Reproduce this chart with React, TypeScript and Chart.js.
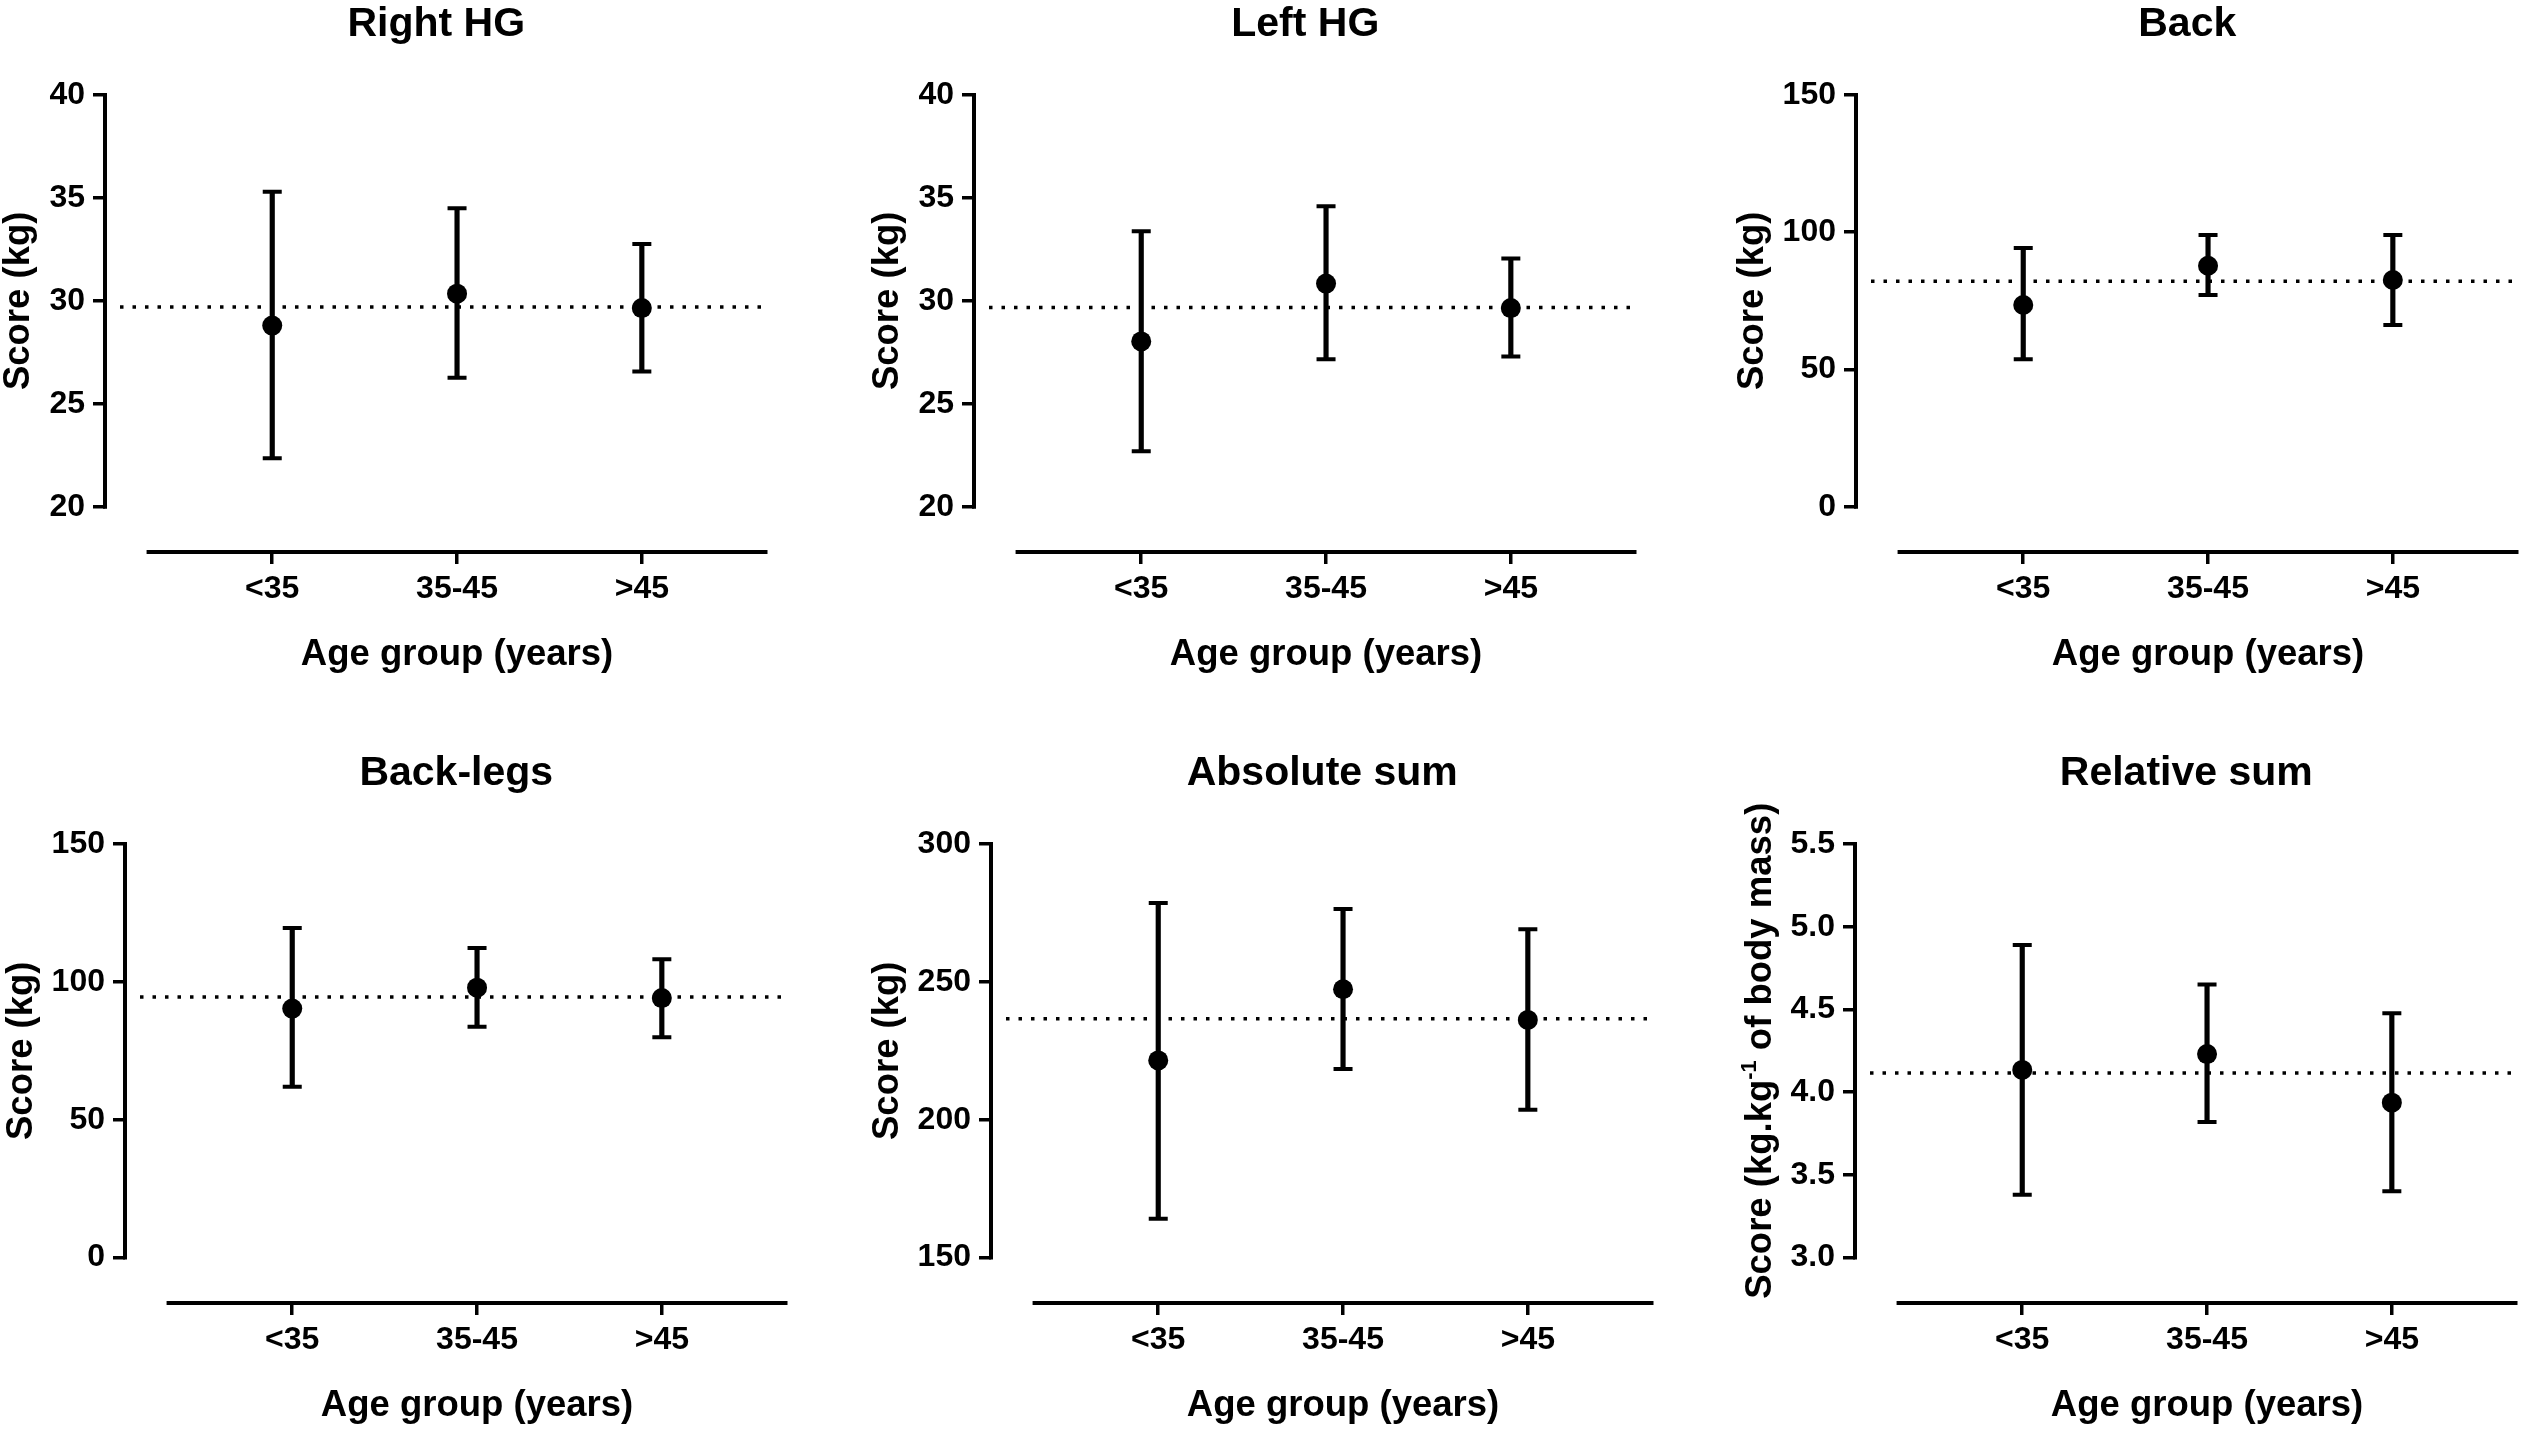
import React, { useEffect, useRef } from "react";
import { Chart, registerables } from "chart.js";

Chart.register(...registerables);

// ---------- data ----------
const ageGroups = ["<35", "35-45", ">45"];
const panelTitles = ["Right HG", "Left HG", "Back", "Back-legs", "Absolute sum", "Relative sum"];
const xAxisTitle = "Age group (years)";
const kgAxisTitle = [{ text: "Score (kg)", sup: false }];
const relativeAxisTitle = [
  { text: "Score (kg.kg", sup: false },
  { text: "-1", sup: true },
  { text: " of body mass)", sup: false },
];

const handgripTicks = [20, 25, 30, 35, 40];
const backTicks = [0, 50, 100, 150];
const absoluteSumTicks = [150, 200, 250, 300];
const relativeSumTicks = [3.0, 3.5, 4.0, 4.5, 5.0, 5.5];

const rightHGMean = [28.8, 30.35, 29.65];
const rightHGLower = [22.35, 26.26, 26.57];
const rightHGUpper = [35.3, 34.5, 32.76];
const rightHGOverall = 29.7;

const leftHGMean = [28.03, 30.84, 29.65];
const leftHGLower = [22.7, 27.16, 27.3];
const leftHGUpper = [33.38, 34.6, 32.06];
const leftHGOverall = 29.68;

const backMean = [73.5, 87.8, 82.6];
const backLower = [53.7, 77.1, 66.2];
const backUpper = [94.3, 99.0, 99.0];
const backOverall = 82.1;

const backLegsMean = [90.3, 97.9, 94.1];
const backLegsLower = [61.9, 83.7, 79.9];
const backLegsUpper = [119.5, 112.3, 108.2];
const backLegsOverall = 94.5;

const absoluteSumMean = [221.5, 247.3, 236.2];
const absoluteSumLower = [164.1, 218.4, 203.6];
const absoluteSumUpper = [278.6, 276.4, 269.1];
const absoluteSumOverall = 236.6;

const relativeSumMean = [4.134, 4.23, 3.936];
const relativeSumLower = [3.38, 3.82, 3.4];
const relativeSumUpper = [4.89, 4.65, 4.477];
const relativeSumOverall = 4.115;

// ---------- layout / style ----------
const FAMILY = "'Liberation Sans', Arial, Helvetica, sans-serif";
const Y_SCALE_W = 130;
const X_SCALE_H = 130;
const TITLE_BOX = 95;
const PLOT_W = 674;
const RIGHT_PAD = 2;
const ROW_TOP = [95, 844];
const ROW_BOTTOM = [552, 1303];
const PANEL_AXIS_X = [105, 974, 1856, 125, 991, 1855];
const X_MIN = -0.905;
const X_MAX = 2.68;
const X_AXIS_START = -0.68;
const Y_GAP = 0.11;
const TICK_FONT = 32;
const AXIS_TITLE_FONT = 36.5;
const TITLE_FONT = 41;

type Seg = { text: string; sup: boolean };
type PanelSpec = {
  title: string;
  yTitle: Seg[];
  mean: number[];
  lower: number[];
  upper: number[];
  overall: number;
  yTicks: number[];
  decimals: number;
};

const panels: PanelSpec[] = [
  { title: panelTitles[0], yTitle: kgAxisTitle, mean: rightHGMean, lower: rightHGLower, upper: rightHGUpper, overall: rightHGOverall, yTicks: handgripTicks, decimals: 0 },
  { title: panelTitles[1], yTitle: kgAxisTitle, mean: leftHGMean, lower: leftHGLower, upper: leftHGUpper, overall: leftHGOverall, yTicks: handgripTicks, decimals: 0 },
  { title: panelTitles[2], yTitle: kgAxisTitle, mean: backMean, lower: backLower, upper: backUpper, overall: backOverall, yTicks: backTicks, decimals: 0 },
  { title: panelTitles[3], yTitle: kgAxisTitle, mean: backLegsMean, lower: backLegsLower, upper: backLegsUpper, overall: backLegsOverall, yTicks: backTicks, decimals: 0 },
  { title: panelTitles[4], yTitle: kgAxisTitle, mean: absoluteSumMean, lower: absoluteSumLower, upper: absoluteSumUpper, overall: absoluteSumOverall, yTicks: absoluteSumTicks, decimals: 0 },
  { title: panelTitles[5], yTitle: relativeAxisTitle, mean: relativeSumMean, lower: relativeSumLower, upper: relativeSumUpper, overall: relativeSumOverall, yTicks: relativeSumTicks, decimals: 1 },
];

function drawRich(ctx: CanvasRenderingContext2D, segs: Seg[], size: number) {
  const parts = segs.map((s) => {
    const fs = s.sup ? size * 0.6 : size;
    ctx.font = `bold ${fs}px ${FAMILY}`;
    return { ...s, fs, w: ctx.measureText(s.text).width };
  });
  const total = parts.reduce((a, p) => a + p.w, 0);
  let x = -total / 2;
  ctx.textAlign = "left";
  ctx.textBaseline = "middle";
  for (const p of parts) {
    ctx.font = `bold ${p.fs}px ${FAMILY}`;
    ctx.fillText(p.text, x, p.sup ? -size * 0.3 : 0);
    x += p.w;
  }
}

function Panel({ spec, index }: { spec: PanelSpec; index: number }) {
  const ref = useRef<HTMLCanvasElement | null>(null);
  const row = Math.floor(index / 3);
  const axisX = PANEL_AXIS_X[index];
  const left = axisX - Y_SCALE_W;
  const top = ROW_TOP[row] - TITLE_BOX;
  const width = Y_SCALE_W + PLOT_W + RIGHT_PAD;
  const height = TITLE_BOX + (ROW_BOTTOM[row] - ROW_TOP[row]) + X_SCALE_H;

  useEffect(() => {
    const canvas = ref.current;
    if (!canvas) return;
    const yMinTick = spec.yTicks[0];
    const yMaxTick = spec.yTicks[spec.yTicks.length - 1];

    const prismAxes = {
      id: "prismAxes",
      beforeDatasetsDraw(chart: any) {
        const { ctx, chartArea } = chart;
        const y = chart.scales.y;
        const yy = y.getPixelForValue(spec.overall);
        ctx.save();
        ctx.strokeStyle = "#000";
        ctx.lineWidth = 3.5;
        ctx.setLineDash([3.5, 9]);
        ctx.beginPath();
        ctx.moveTo(chartArea.left + 15, yy);
        ctx.lineTo(chartArea.right, yy);
        ctx.stroke();
        ctx.restore();
      },
      afterDraw(chart: any) {
        const { ctx, chartArea } = chart;
        const x = chart.scales.x;
        const y = chart.scales.y;
        const yTop = y.getPixelForValue(yMaxTick);
        const yBot = y.getPixelForValue(yMinTick);
        const xStart = x.getPixelForValue(X_AXIS_START);
        ctx.save();
        ctx.strokeStyle = "#000";
        ctx.lineWidth = 4;
        // y axis line
        ctx.lineCap = "square";
        ctx.beginPath();
        ctx.moveTo(chartArea.left, yTop);
        ctx.lineTo(chartArea.left, yBot);
        ctx.stroke();
        // x axis line
        ctx.lineCap = "butt";
        ctx.beginPath();
        ctx.moveTo(xStart, chartArea.bottom);
        ctx.lineTo(chartArea.right, chartArea.bottom);
        ctx.stroke();
        ctx.fillStyle = "#000";
        // x title
        ctx.font = `bold ${AXIS_TITLE_FONT}px ${FAMILY}`;
        ctx.textAlign = "center";
        ctx.textBaseline = "middle";
        ctx.fillText(xAxisTitle, (xStart + chartArea.right) / 2, chartArea.bottom + 103);
        // y title
        ctx.font = `bold ${TICK_FONT}px ${FAMILY}`;
        let w = 0;
        for (const t of y.ticks) w = Math.max(w, ctx.measureText(String(t.label)).width);
        const cx = chartArea.left - 20 - w - 30;
        const cy = (yTop + yBot) / 2;
        ctx.translate(cx, cy);
        ctx.rotate(-Math.PI / 2);
        drawRich(ctx, spec.yTitle, AXIS_TITLE_FONT);
        ctx.restore();
      },
    };

    const chart = new Chart(canvas, {
      type: "scatter",
      data: {
        datasets: [
          {
            type: "scatter",
            data: spec.mean.map((m, i) => ({ x: i, y: m })),
            pointRadius: 10,
            pointHoverRadius: 10,
            pointBackgroundColor: "#000",
            pointBorderColor: "#000",
            pointBorderWidth: 0,
          } as any,
          {
            type: "scatter",
            data: [
              ...spec.lower.map((v, i) => ({ x: i, y: v })),
              ...spec.upper.map((v, i) => ({ x: i, y: v })),
            ],
            pointStyle: "line",
            pointRadius: 9.5,
            pointHoverRadius: 9.5,
            pointBorderColor: "#000",
            pointBorderWidth: 4,
          } as any,
          {
            type: "bar",
            data: spec.lower.map((v, i) => ({ x: i, y: [v, spec.upper[i]] })),
            backgroundColor: "#000",
            borderWidth: 0,
            barThickness: 4.5,
          } as any,
        ],
      },
      options: {
        animation: false,
        responsive: false,
        events: [],
        layout: { padding: { left: 0, right: RIGHT_PAD, top: 0, bottom: 0 } },
        plugins: {
          legend: { display: false },
          tooltip: { enabled: false },
          title: {
            display: true,
            text: spec.title,
            color: "#000",
            fullSize: false,
            font: { family: FAMILY, size: TITLE_FONT, weight: "bold", lineHeight: 1 },
            padding: { top: 4.5, bottom: 49.5 },
          },
        },
        scales: {
          x: {
            type: "linear",
            min: X_MIN,
            max: X_MAX,
            offset: false,
            bounds: "data",
            afterBuildTicks: (s: any) => {
              s.ticks = ageGroups.map((_, i) => ({ value: i }));
            },
            afterFit: (s: any) => {
              s.height = X_SCALE_H;
            },
            border: { display: false },
            grid: { display: true, offset: false, drawOnChartArea: false, drawTicks: true, tickLength: 12, lineWidth: 3.5, color: "#000" },
            ticks: {
              autoSkip: false,
              maxRotation: 0,
              padding: 6,
              color: "#000",
              font: { family: FAMILY, size: TICK_FONT, weight: "bold" },
              callback: (v: any) => ageGroups[Math.round(Number(v))] ?? "",
            },
          },
          y: {
            type: "linear",
            min: yMinTick - Y_GAP * (yMaxTick - yMinTick),
            max: yMaxTick,
            bounds: "data",
            afterBuildTicks: (s: any) => {
              s.ticks = spec.yTicks.map((v) => ({ value: v }));
            },
            afterFit: (s: any) => {
              s.width = Y_SCALE_W;
            },
            border: { display: false },
            grid: { display: true, drawOnChartArea: false, drawTicks: true, tickLength: 12, lineWidth: 3.5, color: "#000" },
            ticks: {
              autoSkip: false,
              padding: 8,
              color: "#000",
              font: { family: FAMILY, size: TICK_FONT, weight: "bold" },
              callback: (v: any) => Number(v).toFixed(spec.decimals),
            },
          },
        },
      } as any,
      plugins: [prismAxes],
    });
    return () => chart.destroy();
  }, [spec]);

  return (
    <canvas
      ref={ref}
      width={width}
      height={height}
      style={{ position: "absolute", left, top, width, height }}
    />
  );
}

export default function App() {
  return (
    <div
      style={{
        position: "absolute",
        left: 0,
        top: 0,
        width: 2537,
        height: 1433,
        overflow: "hidden",
        background: "#fff",
      }}
    >
      {panels.map((p, i) => (
        <Panel key={p.title} spec={p} index={i} />
      ))}
    </div>
  );
}
